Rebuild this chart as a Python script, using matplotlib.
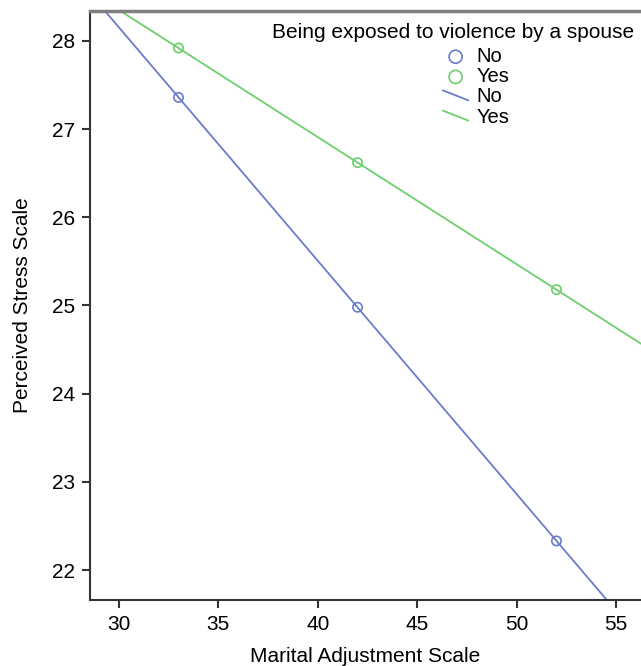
import numpy as np
import matplotlib.pyplot as plt
from matplotlib.lines import Line2D
from matplotlib.legend_handler import HandlerLine2D

plt.rcParams['font.family'] = ['Liberation Sans', 'DejaVu Sans']

# cell means
x_pts = [33, 42, 52]
no_pts = [27.36, 24.98, 22.33]
yes_pts = [27.92, 26.62, 25.18]
groups = ['No', 'Yes']
colors = ['#6b7bcb', '#6ccf6c']

xticks = [30, 35, 40, 45, 50, 55]
yticks = [22, 23, 24, 25, 26, 27, 28]


class DiagLine(HandlerLine2D):
    # legend handle drawn as a short falling stroke
    def create_artists(self, legend, orig, xd, yd, w, h, fs, trans):
        ln = Line2D([w * 0.0, w * 1.0], [h * 0.85, h * 0.15],
                    color=orig.get_color(), lw=orig.get_linewidth())
        ln.set_transform(trans)
        return [ln]


W, H = 641, 666
fig = plt.figure(figsize=(W / 100, H / 100), dpi=100)
ax = fig.add_axes([0.1404, 0.0991, 0.8596, 0.8844])

xlim = (28.55, 56.25)
ax.set_xlim(xlim)
ax.set_ylim(21.66, 28.34)

series = [no_pts, yes_pts]
pt_handles = []
ln_handles = []
for g, ys, c in zip(groups, series, colors):
    b, a = np.polyfit(x_pts, ys, 1)
    xs = np.array(xlim)
    l, = ax.plot(xs, a + b * xs, color=c, lw=1.3, label=g)
    p = ax.scatter(x_pts, ys, s=45, facecolors='none', edgecolors=c,
                   linewidths=1.2, zorder=3, label=g)
    pt_handles.append(p)
    ln_handles.append(l)

ax.set_xticks(xticks)
ax.set_yticks(yticks)
ax.tick_params(labelsize=15, length=6, width=1.5, color='#333333', pad=5)
ax.set_xlabel('Marital Adjustment Scale', fontsize=15, labelpad=9)
ax.set_ylabel('Perceived Stress Scale', fontsize=15, labelpad=14)

for s in ['left', 'bottom']:
    ax.spines[s].set_linewidth(1.5)
    ax.spines[s].set_color('#333333')
ax.spines['top'].set_linewidth(2.5)
ax.spines['top'].set_color('#808080')
ax.spines['right'].set_visible(False)

# legend title placed on its own, entries below it
fig.text(453 / W, 1 - 33 / H, 'Being exposed to violence by a spouse',
         fontsize=15, ha='center', va='center')
leg = fig.legend(pt_handles + ln_handles, groups + groups,
                 fontsize=14.5, frameon=False,
                 loc='upper left', bbox_to_anchor=(443 / W, 1 - 47 / H),
                 bbox_transform=fig.transFigure,
                 handlelength=1.25, handletextpad=0.4, labelspacing=0.06,
                 markerscale=1.4, borderpad=0, borderaxespad=0,
                 handler_map={Line2D: DiagLine()})

fig.savefig('out.png', dpi=100)
